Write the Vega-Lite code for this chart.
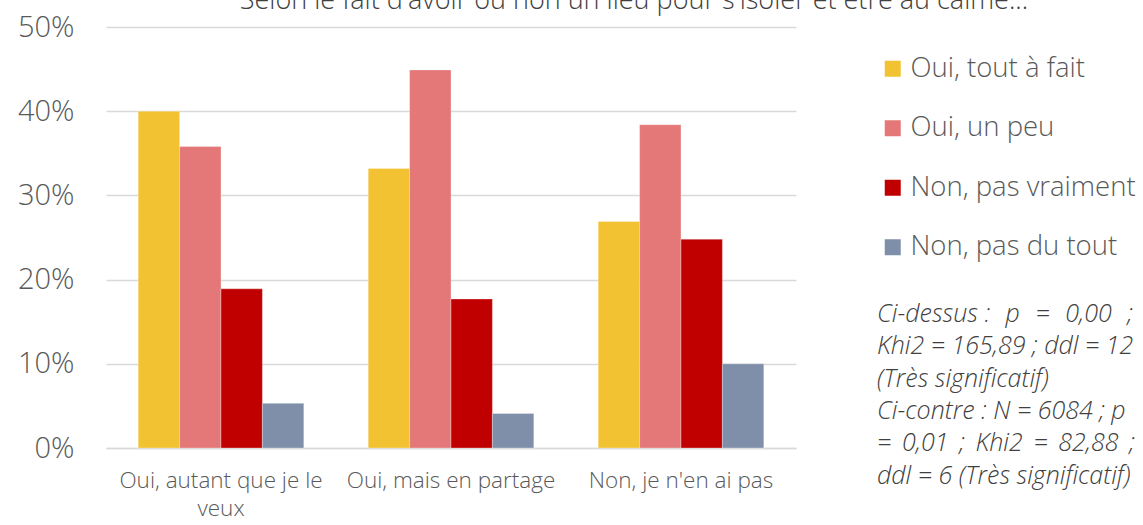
{
  "$schema": "https://vega.github.io/schema/vega-lite/v6.json",
  "autosize": {"type": "none"},
  "width": 690,
  "height": 421,
  "padding": {"left": 106, "top": 27, "right": 347, "bottom": 77},
  "background": "white",
  "title": {
    "text": "Selon le fait d'avoir ou non un lieu pour s'isoler et être au calme...",
    "anchor": "middle",
    "frame": "group",
    "dx": 183,
    "dy": 6,
    "offset": 4,
    "font": "Open Sans",
    "fontSize": 27,
    "fontWeight": 300,
    "color": "#404040"
  },
  "data": {
    "values": [
      {"groupe": "Oui, autant que je le veux", "reponse": "Oui, tout à fait", "pct": 40.0},
      {"groupe": "Oui, autant que je le veux", "reponse": "Oui, un peu", "pct": 35.8},
      {"groupe": "Oui, autant que je le veux", "reponse": "Non, pas vraiment", "pct": 18.9},
      {"groupe": "Oui, autant que je le veux", "reponse": "Non, pas du tout", "pct": 5.3},
      {"groupe": "Oui, mais en partage", "reponse": "Oui, tout à fait", "pct": 33.2},
      {"groupe": "Oui, mais en partage", "reponse": "Oui, un peu", "pct": 44.9},
      {"groupe": "Oui, mais en partage", "reponse": "Non, pas vraiment", "pct": 17.7},
      {"groupe": "Oui, mais en partage", "reponse": "Non, pas du tout", "pct": 4.1},
      {"groupe": "Non, je n'en ai pas", "reponse": "Oui, tout à fait", "pct": 26.9},
      {"groupe": "Non, je n'en ai pas", "reponse": "Oui, un peu", "pct": 38.4},
      {"groupe": "Non, je n'en ai pas", "reponse": "Non, pas vraiment", "pct": 24.8},
      {"groupe": "Non, je n'en ai pas", "reponse": "Non, pas du tout", "pct": 10.0}
    ]
  },
  "mark": {"type": "bar", "stroke": "white", "strokeWidth": 0.5, "strokeOpacity": 0.6},
  "encoding": {
    "x": {
      "field": "groupe",
      "type": "nominal",
      "sort": ["Oui, autant que je le veux", "Oui, mais en partage", "Non, je n'en ai pas"],
      "scale": {"paddingInner": 0.28, "paddingOuter": 0.14},
      "axis": {
        "title": null,
        "labelAngle": 0,
        "labelFont": "Open Sans",
        "labelFontWeight": 300,
        "labelFontSize": 22.5,
        "labelColor": "#595959",
        "labelPadding": 21,
        "labelLineHeight": 28,
        "labelLimit": 300,
        "labelExpr": "datum.label == 'Oui, autant que je le veux' ? ['Oui, autant que je le', 'veux'] : datum.label",
        "ticks": false,
        "domain": true,
        "domainColor": "#d9d9d9",
        "domainWidth": 1.5
      }
    },
    "xOffset": {
      "field": "reponse",
      "type": "nominal",
      "sort": ["Oui, tout à fait", "Oui, un peu", "Non, pas vraiment", "Non, pas du tout"],
      "scale": {"paddingInner": 0, "paddingOuter": 0}
    },
    "y": {
      "field": "pct",
      "type": "quantitative",
      "scale": {"domain": [0, 50], "nice": false},
      "axis": {
        "title": null,
        "values": [0, 10, 20, 30, 40, 50],
        "labelExpr": "datum.value + '%'",
        "labelFont": "Open Sans",
        "labelFontWeight": 300,
        "labelFontSize": 29,
        "labelColor": "#595959",
        "labelPadding": 32,
        "ticks": false,
        "domain": false,
        "grid": true,
        "gridColor": "#d9d9d9",
        "gridWidth": 1.5
      }
    },
    "color": {
      "field": "reponse",
      "type": "nominal",
      "scale": {
        "domain": ["Oui, tout à fait", "Oui, un peu", "Non, pas vraiment", "Non, pas du tout"],
        "range": ["#F2C233", "#E47777", "#C00000", "#7F8FA9"]
      },
      "legend": {
        "orient": "none",
        "legendX": 771,
        "legendY": 28,
        "padding": 0,
        "symbolType": "square",
        "symbolSize": 256,
        "symbolStrokeWidth": 0,
        "symbolOffset": 2,
        "labelOffset": 4,
        "labelFont": "Open Sans",
        "labelFontWeight": 300,
        "labelFontSize": 27.5,
        "labelColor": "#595959",
        "labelLimit": 300,
        "rowPadding": 30.5,
        "title": ["Ci-dessus :\u00a0\u200a p \u00a0\u200a=\u00a0\u200a 0,00 \u00a0\u200a;", "Khi2 = 165,89 ; ddl = 12", "(Très significatif)", "Ci-contre : N = 6084 ; p", "=\u2006 0,01\u2006 ;\u2006 Khi2\u2006 =\u2006 82,88\u2006 ;", "ddl = 6 (Très significatif)"],
        "titleOrient": "bottom",
        "titleAnchor": "start",
        "titleAlign": "left",
        "titlePadding": 41,
        "titleFont": "Open Sans",
        "titleFontStyle": "italic",
        "titleFontWeight": 300,
        "titleFontSize": 25,
        "titleLineHeight": 32.3,
        "titleColor": "#404040",
        "titleLimit": 300
      }
    }
  },
  "config": {
    "view": {"stroke": null}
  }
}
